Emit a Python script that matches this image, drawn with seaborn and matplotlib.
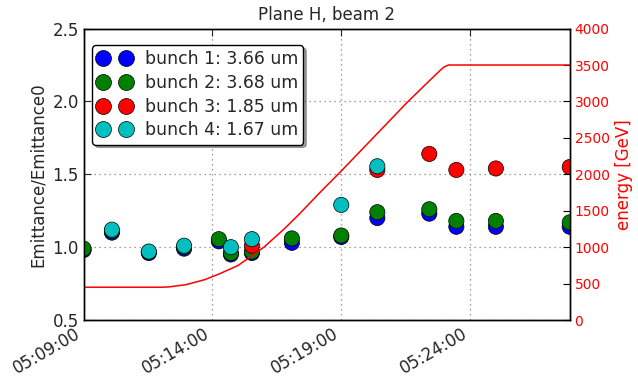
import matplotlib
matplotlib.use("Agg")
import matplotlib.pyplot as plt
import matplotlib.dates as mdates
from matplotlib.lines import Line2D
import numpy as np
import pandas as pd
import seaborn as sns

# ---- data ----
meas_times = ["05:09:00", "05:10:06", "05:11:32", "05:12:54", "05:14:15", "05:14:43", "05:15:32",
              "05:17:05", "05:19:00", "05:20:24", "05:22:25", "05:23:28", "05:25:00", "05:27:52"]
bunch1 = [0.98, 1.10, 0.96, 0.99, 1.04, 0.95, 0.96, 1.03, 1.07, 1.20, 1.23, 1.14, 1.14, 1.14]
bunch2 = [0.99, 1.11, 0.965, 1.00, 1.055, 0.96, 0.97, 1.06, 1.08, 1.24, 1.26, 1.18, 1.18, 1.17]
bunch3 = [np.nan, np.nan, np.nan, np.nan, np.nan, np.nan, 1.01, np.nan, np.nan, 1.53, 1.64, 1.53, 1.54, 1.55]
bunch4 = [np.nan, 1.12, 0.97, 1.01, np.nan, 1.00, 1.055, np.nan, 1.29, 1.555, np.nan, np.nan, np.nan, np.nan]
labels = ["bunch 1: 3.66 um", "bunch 2: 3.68 um", "bunch 3: 1.85 um", "bunch 4: 1.67 um"]
colors = ["#0000ff", "#008000", "#ff0000", "#00bfbf"]

energy_times = ["05:09:00", "05:11:58", "05:12:18", "05:13:00", "05:13:42", "05:14:18", "05:15:00",
                "05:16:00", "05:16:48", "05:17:24", "05:18:12", "05:19:00", "05:21:34", "05:22:28",
                "05:22:51", "05:23:00", "05:23:10", "05:27:52"]
energy_gev = [450, 450, 454, 487, 554, 638, 750, 1000, 1255, 1465, 1760, 2045, 2990, 3300,
              3430, 3475, 3500, 3500]

title = "Plane H, beam 2"
ylabel_left = "Emittance/Emittance0"
ylabel_right = "energy [GeV]"

# ---- build frames ----
day = "2012-01-01 "
rows = []
for lab, vals in zip(labels, [bunch1, bunch2, bunch3, bunch4]):
    for t, v in zip(meas_times, vals):
        if not np.isnan(v):
            rows.append({"time": pd.Timestamp(day + t), "value": v, "bunch": lab})
df = pd.DataFrame(rows)
edf = pd.DataFrame({"time": pd.to_datetime([day + t for t in energy_times]), "energy": energy_gev})

sns.set_style("white")
plt.rcParams["font.family"] = ["DejaVu Sans"]
plt.rcParams["font.size"] = 12

fig = plt.figure(figsize=(6.38, 3.81), dpi=100)
ax = fig.add_axes([0.131, 0.160, 0.762, 0.765])

sns.scatterplot(data=df, x="time", y="value", hue="bunch", hue_order=labels,
                palette=dict(zip(labels, colors)), s=120, edgecolor="black", linewidth=0.5,
                legend=False, ax=ax, zorder=3)

ax.set_ylim(0.5, 2.5)
ax.set_yticks([0.5, 1.0, 1.5, 2.0, 2.5])
ax.set_xlim(pd.Timestamp(day + meas_times[0]), pd.Timestamp(day + meas_times[-1]))
ax.xaxis.set_major_locator(mdates.MinuteLocator(byminute=range(4, 60, 5)))
ax.xaxis.set_major_formatter(mdates.DateFormatter("%H:%M:%S"))
ax.grid(True, linestyle=(0, (1, 3)), color="#808080", linewidth=0.9)
ax.set_xlabel("")
ax.set_ylabel(ylabel_left, fontsize=12)
ax.set_title(title, fontsize=12)
ax.tick_params(direction="in", length=5, labelsize=12, top=True)
for lab in ax.get_xticklabels():
    lab.set_rotation(30)
    lab.set_ha("right")
for sp in ax.spines.values():
    sp.set_color("black")
    sp.set_linewidth(1.0)

ax2 = ax.twinx()
sns.lineplot(data=edf, x="time", y="energy", color="red", linewidth=1.1, ax=ax2)
ax2.set_ylim(0, 4000)
ax2.set_yticks(range(0, 4001, 500))
ax2.set_ylabel(ylabel_right, color="red", fontsize=12)
ax2.tick_params(axis="y", colors="red", labelsize=10, direction="in", length=5)
ax2.tick_params(axis="y", color="black")
ax2.set_xlabel("")
for sp in ax2.spines.values():
    sp.set_color("black")
    sp.set_linewidth(1.0)

handles = [Line2D([], [], linestyle="", marker="o", markersize=11.5, markerfacecolor=c,
                  markeredgecolor="black", markeredgewidth=0.5) for c in colors]
leg = ax2.legend(handles, labels, numpoints=2, loc="upper left",
                 bbox_to_anchor=(0.018, 0.943), borderaxespad=0.0, fontsize=12.4,
                 fancybox=True, shadow=True, frameon=True, handlelength=1.95,
                 handletextpad=0.8, labelspacing=0.33, borderpad=0.3)
leg.get_frame().set_edgecolor("black")
leg.get_frame().set_linewidth(1.0)

fig.savefig("out.png", dpi=100)
